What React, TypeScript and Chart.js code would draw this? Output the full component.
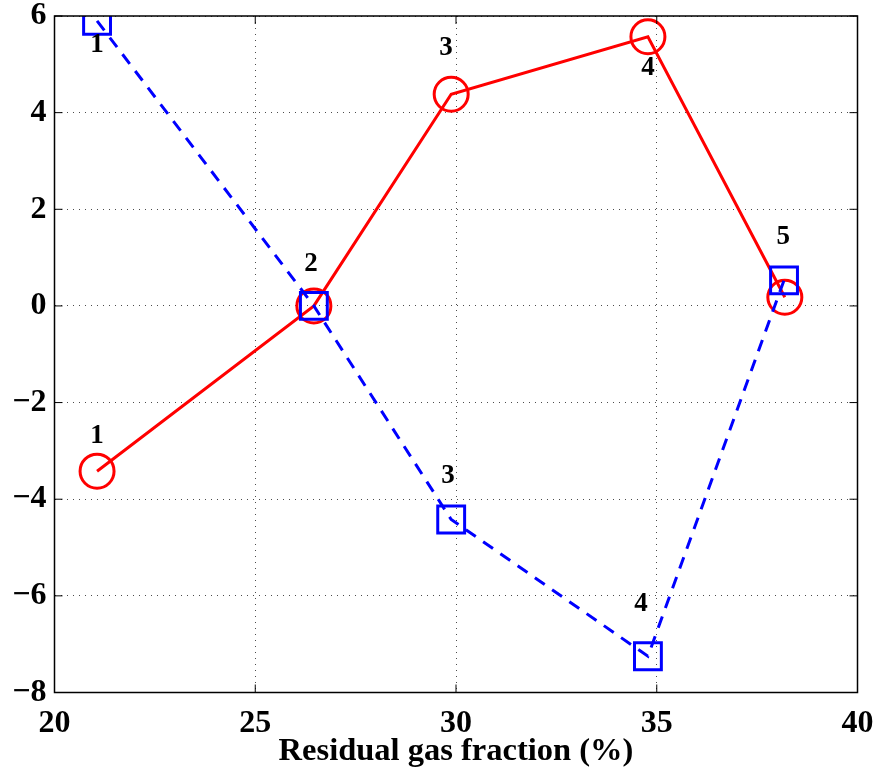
import React, { useEffect, useRef } from "react";
import { Chart, registerables } from "chart.js";

Chart.register(...registerables);

const xRed = [21.06, 26.46, 29.88, 34.78, 38.19];
const yRed = [-3.42, 0.0, 4.38, 5.57, 0.18];
const xBlue = [21.06, 26.46, 29.88, 34.78, 38.17];
const yBlue = [5.9, 0.0, -4.42, -7.25, 0.53];

const labelText = ["1", "2", "3", "4", "5", "1", "3", "4"];
const labelX = [21.06, 26.39, 29.75, 34.78, 38.15, 21.06, 29.8, 34.61];
const labelY = [-2.7, 0.87, 5.34, 4.92, 1.42, 5.4, -3.52, -6.17];

const xTicks = [20, 25, 30, 35, 40];
const yTicks = [-8, -6, -4, -2, 0, 2, 4, 6];

const FONT = "'Liberation Serif', 'Times New Roman', serif";
const AREA = { left: 54.5, top: 16, right: 857.5, bottom: 692.5 };

const fixAreaPlugin = {
  id: "fixArea",
  afterLayout(chart: any) {
    const ca = chart.chartArea;
    ca.left = AREA.left; ca.top = AREA.top; ca.right = AREA.right; ca.bottom = AREA.bottom;
    ca.width = AREA.right - AREA.left; ca.height = AREA.bottom - AREA.top;
    const x = chart.scales.x, y = chart.scales.y;
    x.left = AREA.left; x.right = AREA.right; x.top = AREA.bottom; x.bottom = chart.height;
    x.width = AREA.right - AREA.left; x.height = chart.height - AREA.bottom;
    y.left = 0; y.right = AREA.left; y.top = AREA.top; y.bottom = AREA.bottom;
    y.width = AREA.left; y.height = AREA.bottom - AREA.top;
    [x, y].forEach((s: any) => { s.configure(); s._gridLineItems = null; s._labelItems = null; });
  },
};

const boxPlugin = {
  id: "boxPlugin",
  afterDatasetsDraw(chart: any) {
    const { ctx, chartArea: a, scales } = chart;
    ctx.save();
    ctx.strokeStyle = "#000";
    ctx.lineWidth = 1.5;
    ctx.strokeRect(a.left, a.top, a.right - a.left, a.bottom - a.top);
    ctx.lineWidth = 1;
    const L = 8;
    xTicks.forEach((v) => {
      const px = scales.x.getPixelForValue(v);
      ctx.beginPath();
      ctx.moveTo(px, a.bottom);
      ctx.lineTo(px, a.bottom - L);
      ctx.moveTo(px, a.top);
      ctx.lineTo(px, a.top + L);
      ctx.stroke();
    });
    yTicks.forEach((v) => {
      const py = scales.y.getPixelForValue(v);
      ctx.beginPath();
      ctx.moveTo(a.left, py);
      ctx.lineTo(a.left + L, py);
      ctx.moveTo(a.right, py);
      ctx.lineTo(a.right - L, py);
      ctx.stroke();
    });
    ctx.fillStyle = "#000";
    ctx.font = `bold 27px ${FONT}`;
    ctx.textAlign = "center";
    ctx.textBaseline = "middle";
    labelText.forEach((t, i) => {
      ctx.fillText(t, scales.x.getPixelForValue(labelX[i]), scales.y.getPixelForValue(labelY[i]));
    });
    ctx.restore();
  },
};

export default function App() {
  const ref = useRef<HTMLCanvasElement>(null);
  useEffect(() => {
    document.body.style.margin = "0";
    const chart = new Chart(ref.current!, {
      type: "scatter",
      data: {
        datasets: [
          {
            data: xBlue.map((x, i) => ({ x, y: yBlue[i] })),
            showLine: true,
            borderColor: "#0000ff",
            borderWidth: 3,
            borderDash: [12, 9],
            pointStyle: "rect",
            pointRadius: 19,
            pointBorderColor: "#0000ff",
            pointBorderWidth: 3,
            pointBackgroundColor: "rgba(0,0,0,0)",
          },
          {
            data: xRed.map((x, i) => ({ x, y: yRed[i] })),
            showLine: true,
            borderColor: "#ff0000",
            borderWidth: 3,
            pointStyle: "circle",
            pointRadius: 17,
            pointBorderColor: "#ff0000",
            pointBorderWidth: 3,
            pointBackgroundColor: "rgba(0,0,0,0)",
          },
        ],
      },
      options: {
        animation: false,
        responsive: false,
        layout: { padding: { top: 16, right: 18, left: 0, bottom: 0 } },
        plugins: { legend: { display: false }, tooltip: { enabled: false } },
        scales: {
          x: {
            type: "linear",
            min: 20,
            max: 40,
            afterFit: (s: any) => { s.height = 78.5; },
            afterBuildTicks: (s: any) => { s.ticks = xTicks.map((v) => ({ value: v })); },
            grid: { color: "rgba(0,0,0,0.7)", drawTicks: false, lineWidth: 1 },
            border: { display: false, dash: [1, 5] } as any,
            ticks: { color: "#000", padding: 12, font: { family: FONT, size: 32, weight: "bold" } },
            title: {
              display: true,
              text: "Residual gas fraction (%)",
              color: "#000",
              padding: { top: 0, bottom: 0 },
              font: { family: FONT, size: 32.5, weight: "bold" },
            },
          },
          y: {
            type: "linear",
            min: -8,
            max: 6,
            afterFit: (s: any) => { s.width = 54.5; },
            afterBuildTicks: (s: any) => { s.ticks = yTicks.map((v) => ({ value: v })); },
            grid: { color: "rgba(0,0,0,0.7)", drawTicks: false, lineWidth: 1 },
            border: { display: false, dash: [1, 5] } as any,
            ticks: {
              color: "#000",
              padding: 8,
              font: { family: FONT, size: 32, weight: "bold" },
              callback: (v: any) => (Number(v) < 0 ? "\u2212" + Math.abs(Number(v)) : String(v)),
            },
          },
        },
      },
      plugins: [fixAreaPlugin, boxPlugin],
    });
    return () => chart.destroy();
  }, []);
  return <canvas ref={ref} width={876} height={771} style={{ display: "block" }} />;
}
